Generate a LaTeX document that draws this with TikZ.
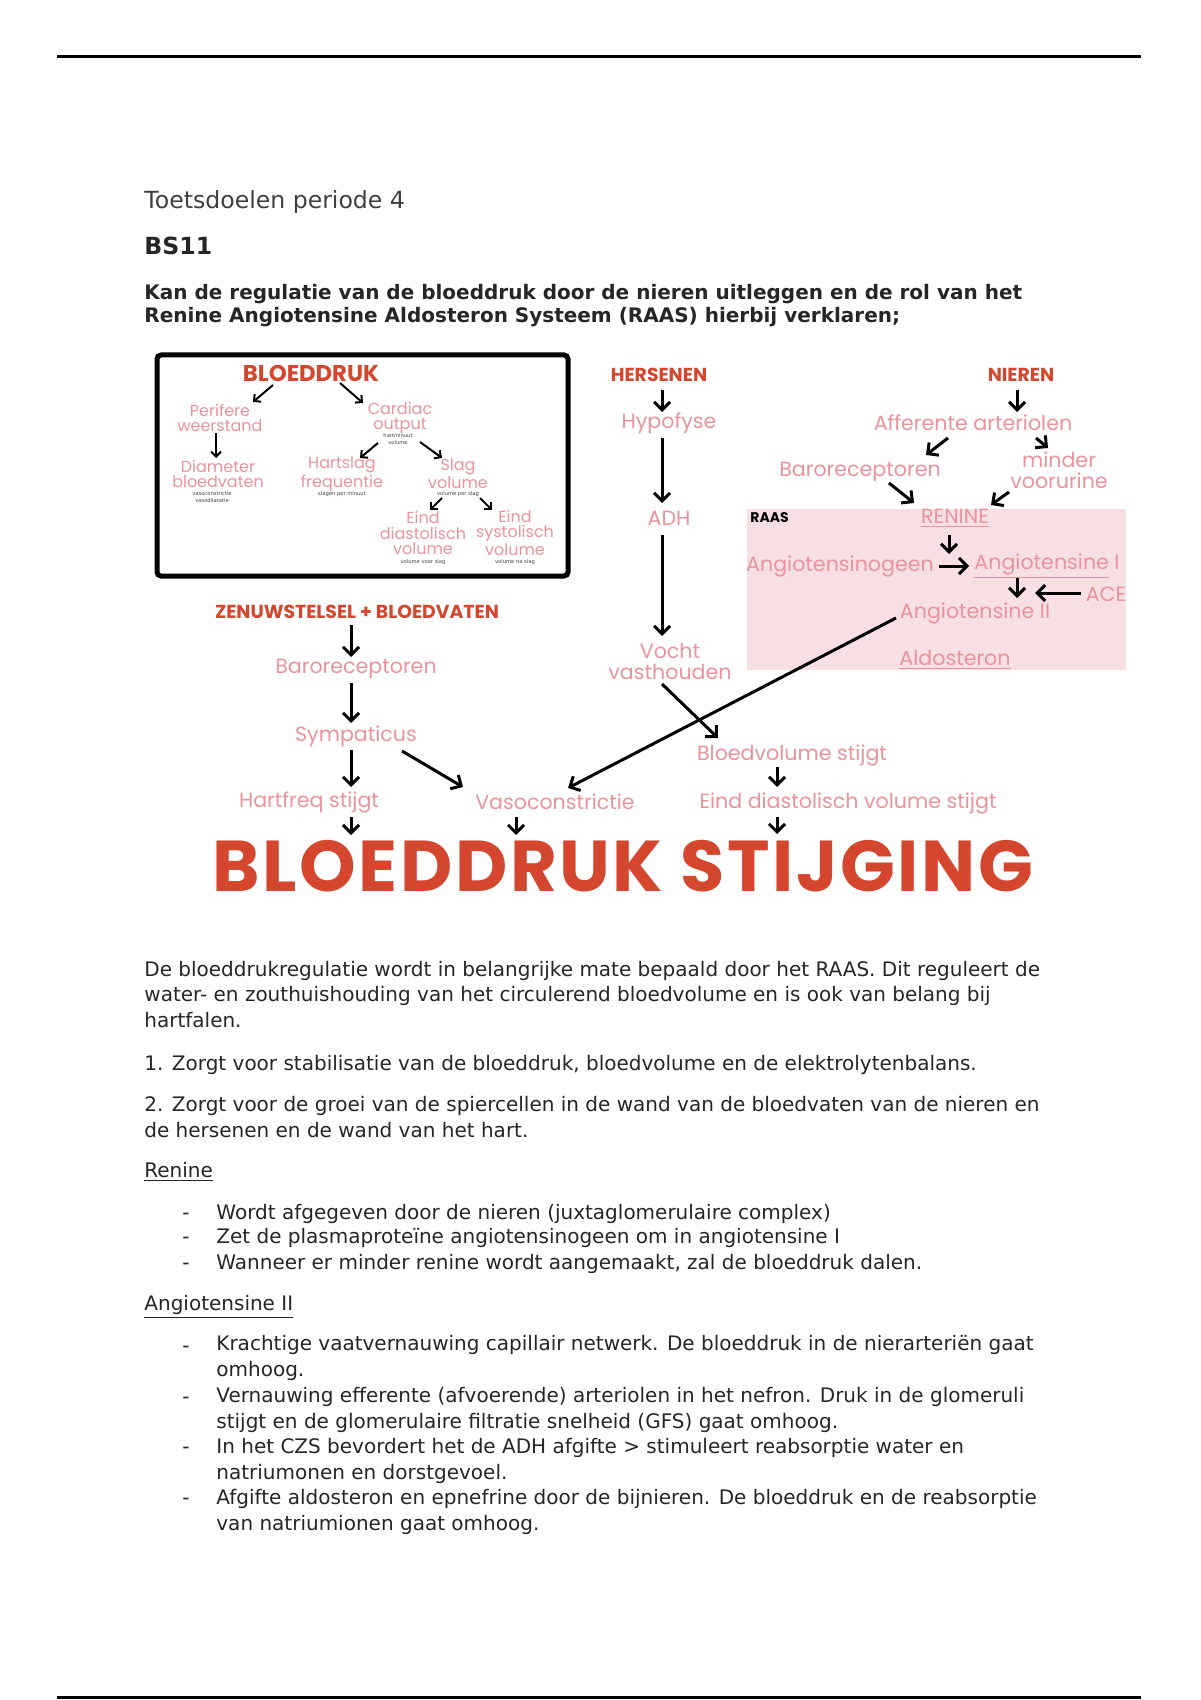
\documentclass[tikz,border=0pt]{standalone}
\usepackage{fontspec}
\setmainfont{DejaVu Sans}
\newfontfamily\hand{Poppins}
\newfontfamily\bighand[LetterSpace=3.5]{Poppins}
\usetikzlibrary{arrows.meta}
\definecolor{lblpink}{HTML}{E8949E}
\definecolor{headred}{HTML}{D5462E}
\definecolor{raasbg}{HTML}{F8DFE3}
\tikzset{
  lbl/.style={text=lblpink,font=\hand\fontsize{10.3}{10.5}\selectfont,align=center,inner sep=0pt},
  boxlbl/.style={text=lblpink,font=\hand\fontsize{8}{7.8}\selectfont,align=center,inner sep=0pt},
  head/.style={text=headred,font=\hand\bfseries\fontsize{9.4}{9.4}\selectfont,inner sep=0pt},
  note/.style={text=black!75,font=\fontsize{2.6}{3.2}\selectfont,align=center,inner sep=0pt},
  body/.style={anchor=base west,align=left,inner sep=0pt,text=black!85,font=\fontsize{10}{12.6}\selectfont},
  bulletdash/.style={anchor=base west,inner sep=0pt,text=black!85,font=\fontsize{10}{12.6}\selectfont},
  arr/.style={-{Straight Barb[length=4pt,width=8pt]},line width=1.5pt},
  thinarr/.style={-{Straight Barb[length=2.5pt,width=5pt]},line width=1pt},
}
\begin{document}
\begin{tikzpicture}[x=0.5pt,y=-0.5pt]
  \useasboundingbox (0,0) rectangle (1200,1700);
  \fill[white] (0,0) rectangle (1200,1700);
  % page rules
  \draw[line width=1.5pt] (57,57) -- (1141,57);
  \draw[line width=1.5pt] (57,1697) -- (1141,1697);

  % heading (multi-line nodes sit on the baseline of their last line)
  \node[body,text=black!75,font=\fontsize{11.8}{14}\selectfont] (title) at (144,209) {Toetsdoelen periode 4};
  \node[body,font=\bfseries\fontsize{11.8}{14}\selectfont] (bs) at (144,255) {BS11};
  \node[body,font=\bfseries\fontsize{10}{11.7}\selectfont] (goal) at (144,323)
    {Kan de regulatie van de bloeddruk door de nieren uitleggen en de rol van het\\
     Renine Angiotensine Aldosteron Systeem (RAAS) hierbij verklaren;};

  % --- diagram: framed tree ---
  \draw[line width=2.5pt,rounded corners=2pt] (157,355) rectangle (568,576);
  \node[head,font=\hand\bfseries\fontsize{11.4}{11.4}\selectfont] (bd) at (311,373) {BLOEDDRUK};
  \node[boxlbl] (perif) at (220,418) {Perifere\\weerstand};
  \node[boxlbl] (card) at (400,418) {Cardiac\\output};
  \node[note] (cardn) at (398,439) {hartminuut\\volume};
  \node[boxlbl] (diam) at (218,474) {Diameter\\bloedvaten};
  \node[note] (diamn) at (212,497) {vasoconstrictie\\vasodilatatie};
  \node[boxlbl] (hslag) at (342,474) {Hartslag\\frequentie};
  \node[note] (hslagn) at (342,494) {slagen per minuut};
  \node[boxlbl] (slag) at (458,474) {Slag\\volume};
  \node[note] (slagn) at (458,494) {volume per slag};
  \node[boxlbl] (edvol) at (423,533) {Eind\\diastolisch\\volume};
  \node[note] (edvoln) at (423,562) {volume voor slag};
  \node[boxlbl] (esvol) at (515,533) {Eind\\systolisch\\volume};
  \node[note] (esvoln) at (515,562) {volume na slag};

  \draw[thinarr] ([shift={(-38,12)}]bd.center) -- ([shift={(33,-16)}]perif.center);
  \draw[thinarr] ([shift={(29,10)}]bd.center) -- ([shift={(-37,-15)}]card.center);
  \draw[thinarr] ([shift={(-4,15)}]perif.center) -- ([shift={(-2,-16)}]diam.center);
  \draw[thinarr] ([shift={(-22,25)}]card.center) -- ([shift={(18,-16)}]hslag.center);
  \draw[thinarr] ([shift={(20,24)}]card.center) -- ([shift={(-16,-16)}]slag.center);
  \draw[thinarr] ([shift={(-16,24)}]slag.center) -- ([shift={(7,-23)}]edvol.center);
  \draw[thinarr] ([shift={(22,24)}]slag.center) -- ([shift={(-23,-23)}]esvol.center);

  % --- hersenen ---
  \node[head] (hers) at (659,375) {HERSENEN};
  \node[lbl] (hypo) at (669,423) {Hypofyse};
  \node[lbl] (adh) at (669,518) {ADH};
  \node[lbl] (vocht) at (670,661) {Vocht\\vasthouden};
  \draw[arr] ([shift={(3,15)}]hers.center) -- ([shift={(-7,-11)}]hypo.center);
  \draw[arr] ([shift={(-7,15)}]hypo.center) -- ([shift={(-7,-15)}]adh.center);
  \draw[arr] ([shift={(-7,17)}]adh.center) -- ([shift={(-8,-25)}]vocht.center);

  % --- nieren + RAAS ---
  \fill[raasbg] (747,509) rectangle (1126,670);
  \node[head] (nier) at (1021,375) {NIEREN};
  \node[lbl] (aff) at (973,423) {Afferente arteriolen};
  \node[lbl] (baro) at (860,472) {Baroreceptoren};
  \node[lbl] (minder) at (1059,470) {minder\\voorurine};
  \node[anchor=west,inner sep=0pt,font=\hand\bfseries\fontsize{7}{7}\selectfont] (raas) at (750,518) {RAAS};
  \node[lbl] (ren) at (955,518) {\underline{RENINE}};
  \node[lbl] (agen) at (840,566) {Angiotensinogeen};
  \node[lbl] (ang1) at (1047,566) {\underline{Angiotensine} I};
  \node[lbl] (ace) at (1106,594) {ACE};
  \node[lbl] (ang2) at (975,613) {Angiotensine II};
  \node[lbl] (aldo) at (955,660) {\underline{Aldosteron}};
  \coordinate (renhit) at (949,554);
  \coordinate (acehit) at (1035,593);
  \draw[arr] ([shift={(-4,15)}]nier.center) -- ([shift={(44,-11)}]aff.center);
  \draw[arr] ([shift={(-25,15)}]aff.center) -- ([shift={(66,-17)}]baro.center);
  \draw[arr] ([shift={(63,15)}]aff.center) -- ([shift={(-11,-22)}]minder.center);
  \draw[arr] ([shift={(29,11)}]baro.center) -- ([shift={(-41,-15)}]ren.center);
  \draw[arr] ([shift={(-50,22)}]minder.center) -- ([shift={(36,-13)}]ren.center);
  \draw[arr] ([shift={(-6,17)}]ren.center) -- (renhit);
  \draw[arr] ([shift={(99,0)}]agen.center) -- ([shift={(-78,0)}]ang1.center);
  \draw[arr] ([shift={(-30,12)}]ang1.center) -- ([shift={(42,-15)}]ang2.center);
  \draw[arr] ([shift={(-25,-1)}]ace.center) -- (acehit);

  % --- zenuwstelsel ---
  \node[head] (zen) at (357,612) {ZENUWSTELSEL + BLOEDVATEN};
  \node[lbl] (baroz) at (356,669) {Baroreceptoren};
  \node[lbl] (symp) at (356,736) {Sympaticus};
  \node[lbl] (hfreq) at (309,802) {Hartfreq stijgt};
  \node[lbl] (vaso) at (555,802) {Vasoconstrictie};
  \node[lbl] (bvol) at (792,755) {Bloedvolume stijgt};
  \node[lbl] (edvst) at (848,803) {Eind diastolisch volume stijgt};
  \node[inner sep=0pt,text=headred,font=\bighand\bfseries\fontsize{36}{36}\selectfont] (big) at (623,866) {BLOEDDRUK STIJGING};
  \draw[arr] ([shift={(-6,13)}]zen.center) -- ([shift={(-5,-12)}]baroz.center);
  \draw[arr] ([shift={(-5,14)}]baroz.center) -- ([shift={(-5,-13)}]symp.center);
  \draw[arr] ([shift={(-5,14)}]symp.center) -- ([shift={(42,-15)}]hfreq.center);
  \draw[arr] ([shift={(46,15)}]symp.center) -- ([shift={(-92,-15)}]vaso.center);
  \draw[arr] ([shift={(-79,5)}]ang2.center) -- ([shift={(13,-14)}]vaso.center);
  \draw[arr] ([shift={(-8,23)}]vocht.center) -- ([shift={(-74,-17)}]bvol.center);
  \draw[arr] ([shift={(-15,12)}]bvol.center) -- ([shift={(-71,-16)}]edvst.center);
  \draw[arr] ([shift={(42,15)}]hfreq.center) -- ([shift={(-272,-31)}]big.center);
  \draw[arr] ([shift={(-39,15)}]vaso.center) -- ([shift={(-107,-31)}]big.center);
  \draw[arr] ([shift={(-71,14)}]edvst.center) -- ([shift={(154,-32)}]big.center);

  % text below the diagram
  \node[body] (p1) at (144,1027) {De bloeddrukregulatie wordt in belangrijke mate bepaald door het RAAS. Dit reguleert de\\
    water- en zouthuishouding van het circulerend bloedvolume en is ook van belang bij\\hartfalen.};
  \node[body] (p2) at (144,1070) {1. Zorgt voor stabilisatie van de bloeddruk, bloedvolume en de elektrolytenbalans.};
  \node[body] (p3) at (144,1137) {2. Zorgt voor de groei van de spiercellen in de wand van de bloedvaten van de nieren en\\
    de hersenen en de wand van het hart.};
  \node[body] (ren-h) at (144,1177) {\underline{Renine}};
  \node[body] (r1) at (216,1219) {Wordt afgegeven door de nieren (juxtaglomerulaire complex)};
  \node[body] (r2) at (216,1243) {Zet de plasmaproteïne angiotensinogeen om in angiotensine I};
  \node[body] (r3) at (216,1269) {Wanneer er minder renine wordt aangemaakt, zal de bloeddruk dalen.};
  \node[body] (ang-h) at (144,1310) {\underline{Angiotensine II}};
  \node[body] (a1) at (216,1376) {Krachtige vaatvernauwing capillair netwerk. De bloeddruk in de nierarteriën gaat\\omhoog.};
  \node[body] (a2) at (216,1428) {Vernauwing efferente (afvoerende) arteriolen in het nefron. Druk in de glomeruli\\
    stijgt en de glomerulaire filtratie snelheid (GFS) gaat omhoog.};
  \node[body] (a3) at (216,1479) {In het CZS bevordert het de ADH afgifte > stimuleert reabsorptie water en\\
    natriumonen en dorstgevoel.};
  \node[body] (a4) at (216,1530) {Afgifte aldosteron en epnefrine door de bijnieren. De bloeddruk en de reabsorptie\\
    van natriumionen gaat omhoog.};
  \foreach \yy/\nm in {1219/d1,1243/d2,1269/d3,1352/d4,1403/d5,1453/d6,1504/d7}
    \node[bulletdash] (\nm) at (182,\yy) {-};
\end{tikzpicture}
\end{document}
